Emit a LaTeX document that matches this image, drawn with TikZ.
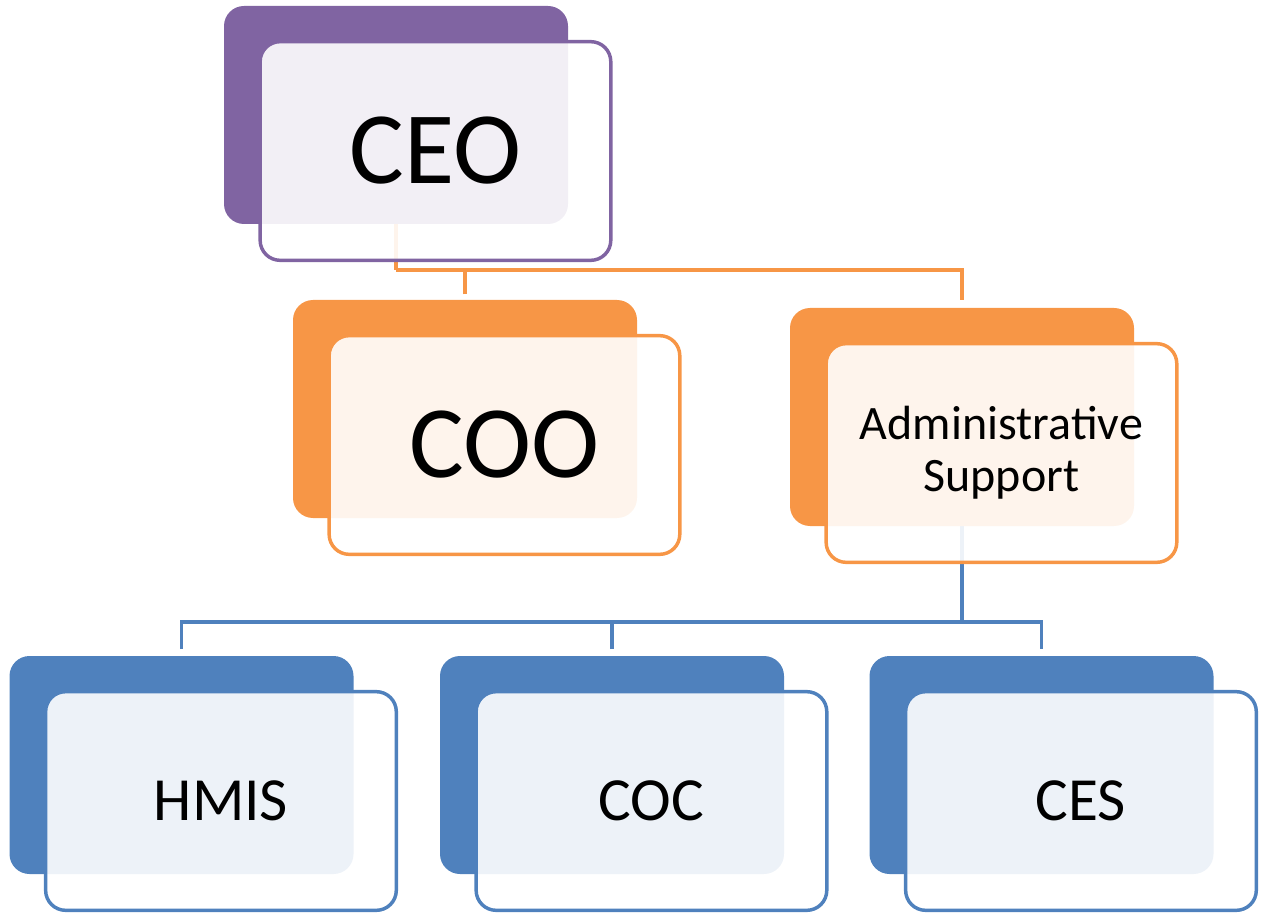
\documentclass[tikz,border=0pt]{standalone}
\usepackage{fontspec}
\setmainfont{Carlito}
\usetikzlibrary{positioning,backgrounds}

\definecolor{ceopurple}{HTML}{8064A2}
\definecolor{midorange}{HTML}{F79646}
\definecolor{unitblue}{HTML}{4F81BD}

\begin{document}
\begin{tikzpicture}[x=0.75pt,y=-0.75pt,
	back/.style={rectangle,rounded corners=15pt,fill=#1,minimum width=258pt,minimum height=163.5pt},
	front/.style={rectangle,rounded corners=15pt,draw=#1,line width=2.6pt,fill=white,fill opacity=0.9,text opacity=1,
		minimum width=263pt,minimum height=164pt,align=center,on grid},
	link/.style={draw=#1,line width=2.8pt}]

\useasboundingbox (0,0) rectangle (1261,916);

% back plates
\node[back=ceopurple]   (b1) at (396,115)      {};
\node[back=midorange]   (b2) at (465,409)      {};
\node[back=midorange]   (b3) at (962,417)      {};
\node[back=unitblue]    (b4) at (181.5,765)    {};
\node[back=unitblue]    (b5) at (612,765)      {};
\node[back=unitblue]    (b6) at (1041.5,765)   {};

% connectors
\begin{scope}[on background layer]
\path (b1.south) ++(0,46) coordinate (j1);
\path (b3.south) ++(0,96) coordinate (j2);
\draw[link=midorange] (b1.south) -- (j1);
\draw[link=midorange,shorten <=4pt,shorten >=6pt] (b2.north) |- (j1) -| (b3.north);
\draw[link=unitblue] (b3.south) -- (j2);
\draw[link=unitblue,shorten <=5pt,shorten >=5pt] (b4.north) |- (j2) -| (b6.north);
\draw[link=unitblue,shorten <=5pt] (b5.north) -- (b5.north |- j2);
\end{scope}

% front cards
\node[front=ceopurple,below right=27pt and 29.6pt of b1,font=\fontsize{77}{80}\selectfont]   (ceo)   {CEO};
\node[front=midorange,below right=27pt and 29.6pt of b2,font=\fontsize{77}{80}\selectfont]   (coo)   {COO};
\node[front=midorange,below right=27pt and 29.6pt of b3,font=\fontsize{36}{39}\selectfont]   (adm)   {Administrative\\Support};
\node[front=unitblue,below right=27pt and 29.6pt of b4,font=\fontsize{46}{50}\selectfont]    (hmis)  {HMIS};
\node[front=unitblue,below right=27pt and 29.6pt of b5,font=\fontsize{46}{50}\selectfont]    (coc)   {COC};
\node[front=unitblue,below right=27pt and 29.6pt of b6,font=\fontsize{46}{50}\selectfont]    (ces)   {CES};

\end{tikzpicture}
\end{document}
